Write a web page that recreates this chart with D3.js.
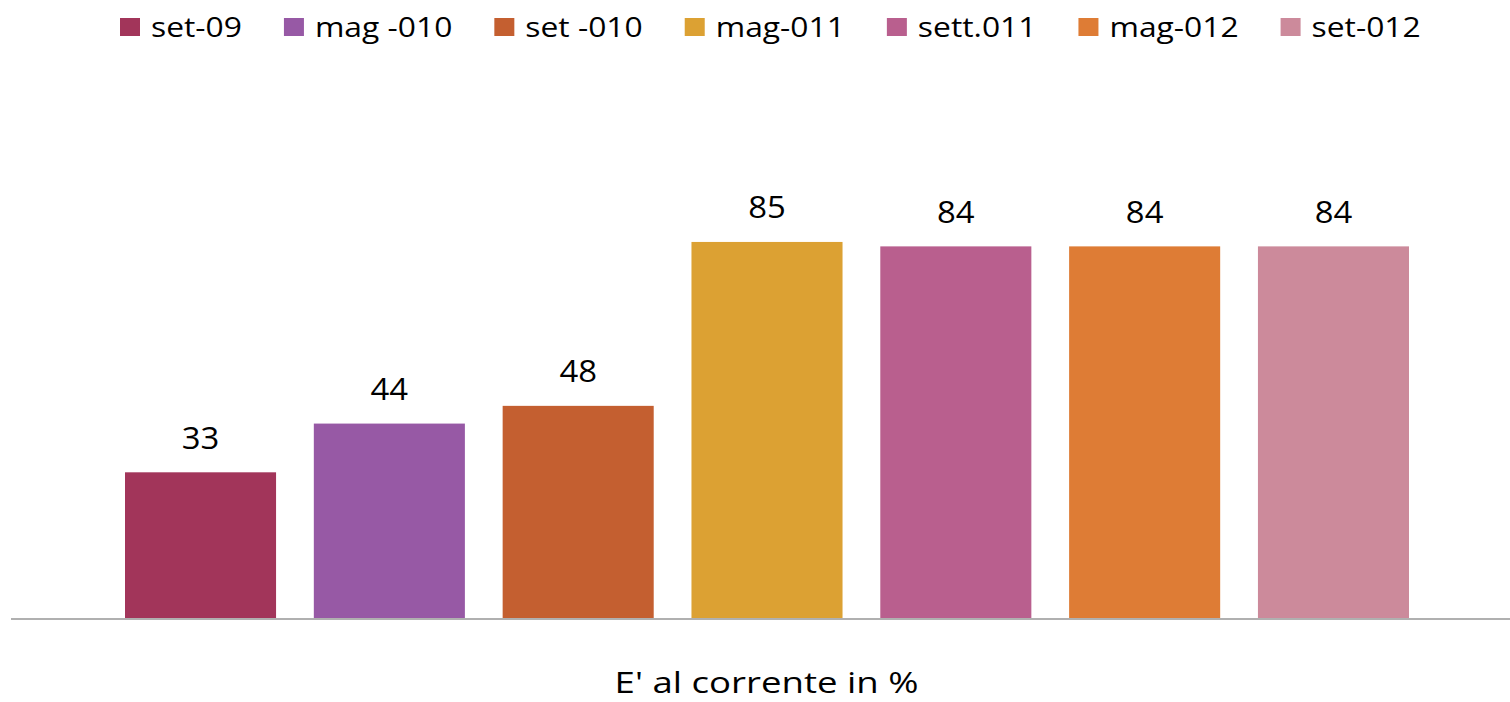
<!DOCTYPE html>
<html><head><meta charset="utf-8">
<script src="https://cdn.jsdelivr.net/npm/d3@7"></script>
<style>body{margin:0;background:#fff}svg{display:block}text{font-family:"Open Sans",sans-serif;fill:#000}</style>
</head><body><svg id="c" width="1510" height="702"></svg>
<script>
const series = ["set-09","mag -010","set -010","mag-011","sett.011","mag-012","set-012"];
const values = [33,44,48,85,84,84,84];
const colors = ["#A2355A","#9759A5","#C45F30","#DCA133","#B95F8E","#DE7C35","#CC8A9B"];
const axisTitle = "E' al corrente in %";

const svg = d3.select("#c");
const x = d3.scaleBand().domain(series).range([125,1409]).paddingInner(0.2).paddingOuter(0);
const y = d3.scaleLinear().domain([0,100]).range([618.5,175.5]);

svg.append("g").selectAll("rect").data(series).join("rect")
  .attr("x",d=>x(d)).attr("width",x.bandwidth())
  .attr("y",(d,i)=>y(values[i])).attr("height",(d,i)=>y(0)-y(values[i]))
  .attr("fill",(d,i)=>colors[i]);

svg.append("line").attr("x1",11).attr("x2",1510).attr("y1",y(0)+0.5).attr("y2",y(0)+0.5)
  .attr("stroke","#b0b0b0").attr("stroke-width",2);

svg.append("g").selectAll("text").data(series).join("text")
  .attr("transform",(d,i)=>`translate(${x(d)+x.bandwidth()/2},${y(values[i])-23.5}) scale(1.06,1)`)
  .attr("text-anchor","middle").attr("font-size",31).text((d,i)=>values[i]);

svg.append("text").attr("transform","translate(766.5,693) scale(1.22,1)").attr("text-anchor","middle")
  .attr("font-size",30).text(axisTitle);

// legend
const lg = svg.append("g").attr("transform","translate(120,0)");
let cx = 0;
const sx = 1.2;
series.forEach((s,i)=>{
  const g = lg.append("g").attr("transform",`translate(${cx},0)`);
  g.append("rect").attr("x",0).attr("y",18).attr("width",20).attr("height",18).attr("fill",colors[i]);
  const t = g.append("text").attr("transform",`translate(31,37) scale(${sx},1)`).attr("font-size",26.5).text(s);
  cx += 31 + t.node().getComputedTextLength()*sx + 42;
});
</script></body></html>
